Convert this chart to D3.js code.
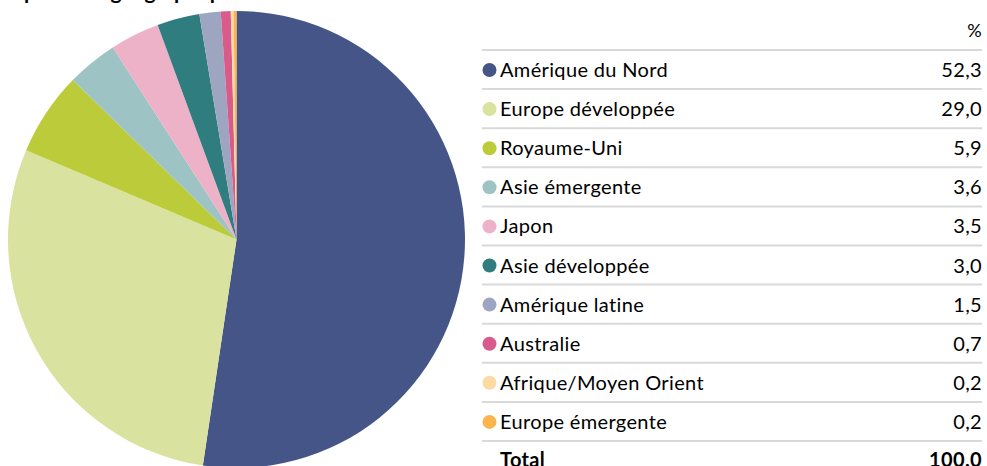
<!DOCTYPE html>
<html>
<head>
<meta charset="utf-8">
<script src="https://cdn.jsdelivr.net/npm/d3@7"></script>
<style>
  body { margin: 0; background: #fff; }
  svg { display: block; font-family: Lato, "Open Sans", sans-serif; }
</style>
</head>
<body>
<div id="chart"></div>
<script>
var regions = ["Amérique du Nord", "Europe développée", "Royaume-Uni", "Asie émergente", "Japon",
    "Asie développée", "Amérique latine", "Australie", "Afrique/Moyen Orient", "Europe émergente"];
var shares = [52.3, 29.0, 5.9, 3.6, 3.5, 3.0, 1.5, 0.7, 0.2, 0.2];
var colours = ["#465587", "#d9e39f", "#bccb3a", "#9dc3c4", "#edb1c8",
    "#2f7d7e", "#9ea5c0", "#d95b8b", "#fdd9a4", "#fdb44c"];
var totalLabel = "100.0";
var unitLabel = "%";
var title = "Répartition géographique";

function init() {
    var w = 987;
    var h = 466;

    var svg = d3.select("#chart")
        .append("svg")
        .attr("width", w)
        .attr("height", h);

    // title sits mostly above the visible area, like the cropped original
    svg.append("text")
        .attr("x", 0)
        .attr("y", -1)
        .attr("font-weight", "bold")
        .attr("font-size", 21)
        .attr("fill", "#000")
        .text(title);

    var dataset = regions.map(function (r, i) {
        return { name: r, value: shares[i], colour: colours[i] };
    });

    // pie
    var cx = 236.5, cy = 239.5, radius = 228.5;
    var pie = d3.pie()
        .sort(null)
        .value(function (d) { return d.value; });
    var arc = d3.arc()
        .innerRadius(0)
        .outerRadius(radius);

    svg.append("g")
        .attr("transform", "translate(" + cx + "," + cy + ")")
        .selectAll("path")
        .data(pie(dataset))
        .enter()
        .append("path")
        .attr("d", arc)
        .attr("fill", function (d) { return d.data.colour; });

    // table
    var x0 = 482, x1 = 982;
    var yScale = d3.scaleLinear()
        .domain([0, regions.length])
        .range([70, 70 + 39.1 * regions.length]);
    var fmt = function (v) { return d3.format(".1f")(v).replace(".", ","); };

    var table = svg.append("g")
        .attr("font-size", 20)
        .attr("letter-spacing", 0.35)
        .attr("fill", "#000");

    table.append("text")
        .attr("x", x1)
        .attr("y", yScale(-1) + 6)
        .attr("text-anchor", "end")
        .attr("font-size", 18)
        .text(unitLabel);

    var lineIdx = d3.range(regions.length + 1);
    table.selectAll("line.sep")
        .data(lineIdx)
        .enter()
        .append("line")
        .attr("class", "sep")
        .attr("x1", x0)
        .attr("x2", x1)
        .attr("y1", function (i) { return yScale(i) - 20; })
        .attr("y2", function (i) { return yScale(i) - 20; })
        .style("stroke", "#d9d9d9")
        .style("stroke-width", 2);

    var rows = table.selectAll("g.row")
        .data(dataset)
        .enter()
        .append("g")
        .attr("class", "row")
        .attr("transform", function (d, i) { return "translate(0," + yScale(i) + ")"; });

    rows.append("circle")
        .attr("cx", 489.5)
        .attr("cy", 0)
        .attr("r", 7)
        .attr("fill", function (d) { return d.colour; });

    rows.append("text")
        .attr("x", 500)
        .attr("y", 7)
        .text(function (d) { return d.name; });

    rows.append("text")
        .attr("x", x1)
        .attr("y", 7)
        .attr("text-anchor", "end")
        .text(function (d) { return fmt(d.value); });

    var totalY = yScale(regions.length) + 5.5;
    table.append("text")
        .attr("x", 500)
        .attr("y", totalY)
        .attr("font-weight", "bold")
        .text("Total");
    table.append("text")
        .attr("x", x1)
        .attr("y", totalY)
        .attr("text-anchor", "end")
        .attr("font-weight", "bold")
        .text(totalLabel);
}

window.onload = init;
</script>
</body>
</html>
